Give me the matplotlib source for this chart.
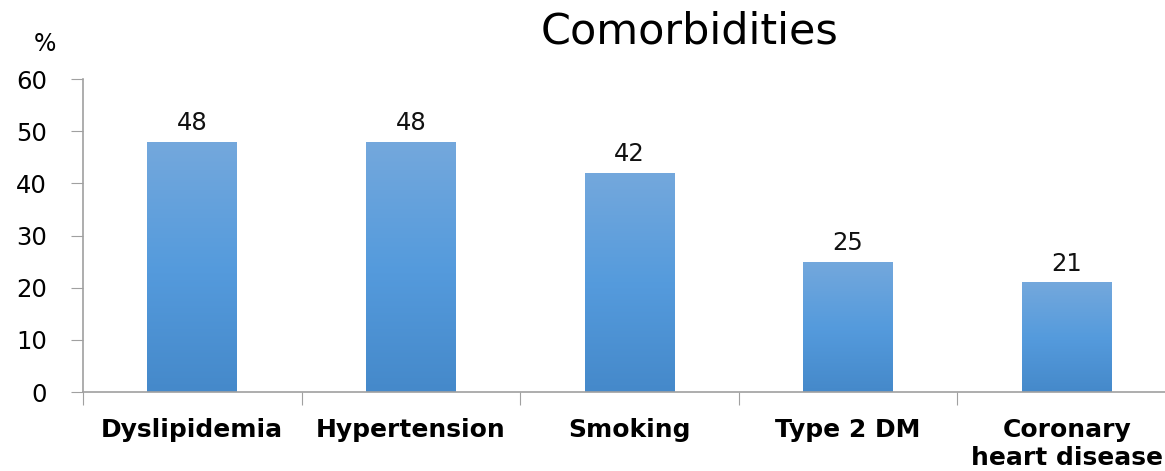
import numpy as np
import matplotlib
matplotlib.use("Agg")
import matplotlib.pyplot as plt
from matplotlib.colors import LinearSegmentedColormap

categories = ["Dyslipidemia", "Hypertension", "Smoking", "Type 2 DM", "Coronary\nheart disease"]
values = [48, 48, 42, 25, 21]
yticks = [0, 10, 20, 30, 40, 50, 60]
title = "Comorbidities"

plt.rcParams['font.family'] = ['DejaVu Sans']

fig = plt.figure(figsize=(11.65, 4.71), dpi=100)
ax = fig.add_axes([83/1165, 79/471, 1093/1165, 313/471])

x = np.arange(len(categories))
bars = ax.bar(x, values, width=0.41, color='none', edgecolor='none', zorder=2)

cmap = LinearSegmentedColormap.from_list(
    "grad", [(69/255, 137/255, 202/255), (85/255, 155/255, 221/255), (116/255, 168/255, 220/255)])
grad = np.linspace(0, 1, 256).reshape(-1, 1)
for b in bars:
    x0, y0 = b.get_x(), b.get_y()
    w, h = b.get_width(), b.get_height()
    im = ax.imshow(grad, cmap=cmap, origin='lower', aspect='auto',
                   extent=[x0, x0 + w, y0, y0 + h], zorder=2)
    im.set_clip_path(b)

for xi, v in zip(x, values):
    ax.text(xi, v + 1.3, f"{v}", ha='center', va='bottom', fontsize=17.5, color='#111111')

ax.set_xlim(-0.5, len(categories) - 0.5)
ax.set_ylim(0, 60)
ax.set_yticks(yticks)
ax.set_yticklabels([str(t) for t in yticks], fontsize=17.5)

ax.set_xticks(np.arange(len(categories) + 1) - 0.5)
ax.set_xticklabels([])
ax.set_xticks(x, minor=True)
ax.set_xticklabels(categories, minor=True, fontsize=18, fontweight='bold', linespacing=1.2)
ax.tick_params(axis='x', which='minor', length=0, pad=19)
ax.tick_params(axis='x', which='major', length=9, color='#A0A0A0', direction='out')
ax.tick_params(axis='y', length=9, color='#A0A0A0', direction='out', pad=17)

for s in ['top', 'right']:
    ax.spines[s].set_visible(False)
for s in ['left', 'bottom']:
    ax.spines[s].set_color('#A0A0A0')
    ax.spines[s].set_linewidth(1.2)

fig.text(690/1165, 1 - 31/471, title, ha='center', va='center', fontsize=31)
fig.text(45/1165, 1 - 44/471, "%", ha='center', va='center', fontsize=17)

fig.savefig("out.png", dpi=100)
